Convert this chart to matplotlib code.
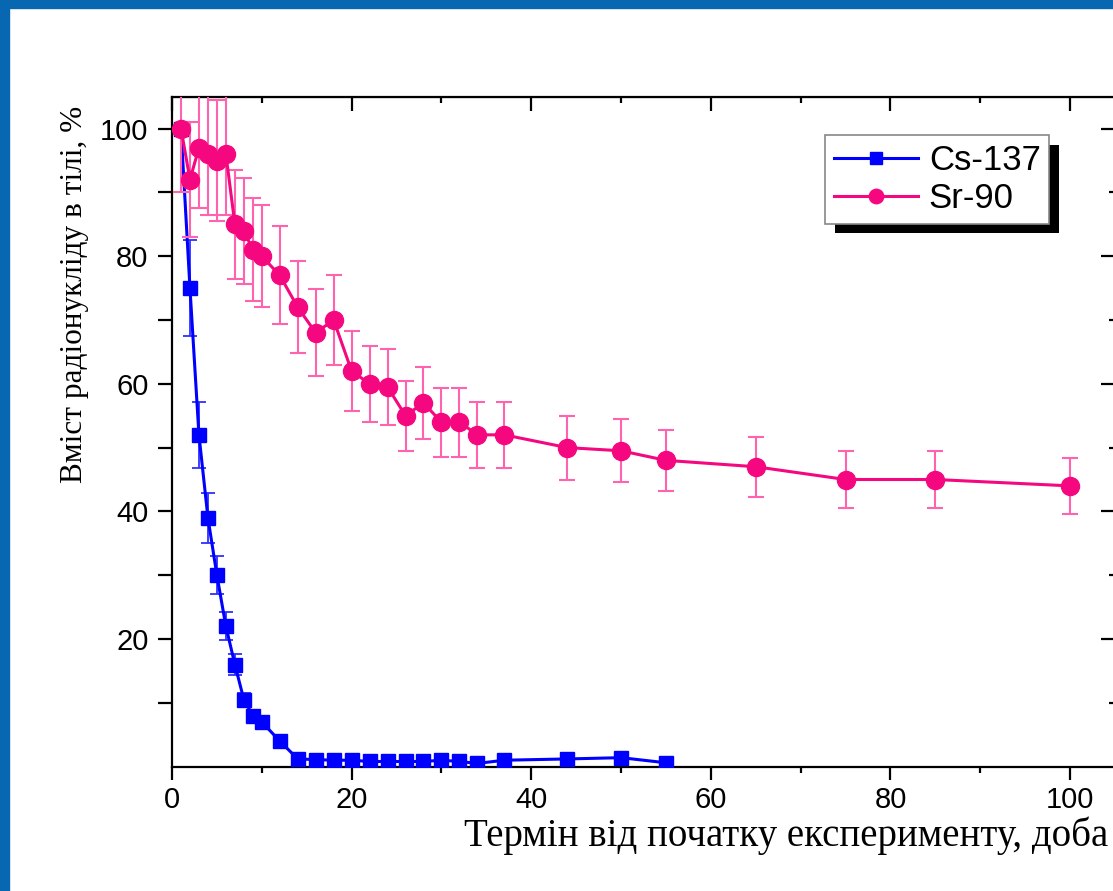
import matplotlib
matplotlib.use("Agg")
import matplotlib.pyplot as plt
import matplotlib.patheffects as pe
from matplotlib.patches import Rectangle
from matplotlib.ticker import FixedLocator

# days since start of experiment
cs_x = [1, 2, 3, 4, 5, 6, 7, 8, 9, 10, 12, 14, 16, 18, 20, 22, 24, 26, 28, 30, 32, 34, 37, 44, 50, 55]
cs_y = [100, 75, 52, 39, 30, 22, 16, 10.5, 8, 7, 4, 1.2, 1.1, 1, 1, 0.8, 0.8, 0.8, 0.8, 1, 0.8, 0.5, 1, 1.2, 1.4, 0.6]
cs_err = [10, 7.5, 5.2, 3.9, 3, 2.2, 1.6, 1.05, 0.8, 0.7, 0.4, 0.1, 0.1, 0.1, 0.1, 0.1, 0.1, 0.1, 0.1, 0.1, 0.1, 0.1, 0.1, 0.1, 0.1, 0.1]

sr_x = [1, 2, 3, 4, 5, 6, 7, 8, 9, 10, 12, 14, 16, 18, 20, 22, 24, 26, 28, 30, 32, 34, 37, 44, 50, 55, 65, 75, 85, 100]
sr_y = [100, 92, 97, 96, 95, 96, 85, 84, 81, 80, 77, 72, 68, 70, 62, 60, 59.5, 55, 57, 54, 54, 52, 52, 50, 49.5, 48, 47, 45, 45, 44]
sr_err = [10, 9, 9.5, 9.5, 9.5, 9.6, 8.5, 8.3, 8.1, 8, 7.7, 7.2, 6.8, 7, 6.2, 6, 5.9, 5.5, 5.6, 5.4, 5.4, 5.2, 5.2, 5, 4.95, 4.8, 4.7, 4.5, 4.5, 4.4]

x_ticks = [0, 20, 40, 60, 80, 100]
x_minor = [10, 30, 50, 70, 90]
y_ticks = [20, 40, 60, 80, 100]
y_minor = [10, 30, 50, 70, 90]

CS_COLOR = "#0000ff"
SR_COLOR = "#f5077f"
FRAME_BLUE = "#0768b1"

W, H = 1113, 891
fig = plt.figure(figsize=(W / 100, H / 100), dpi=100)

# blue slide frame on left and top
fig.patches.append(Rectangle((0, 0), 9 / W, 1, transform=fig.transFigure, color=FRAME_BLUE, zorder=-1))
fig.patches.append(Rectangle((0, 1 - 8 / H), 1, 8 / H, transform=fig.transFigure, color=FRAME_BLUE, zorder=-1))

ax = fig.add_axes([172 / W, (H - 766.6) / H, 943 / W, 669.9 / H])

ax.errorbar(cs_x, cs_y, yerr=cs_err, fmt="none", ecolor="#3030ff", elinewidth=1.3,
            capsize=5, capthick=1.3, zorder=2)
ax.plot(cs_x, cs_y, color=CS_COLOR, marker="s", ms=10.5, lw=2.2, label="Cs-137", zorder=3)

ax.errorbar(sr_x, sr_y, yerr=sr_err, fmt="none", ecolor="#ff62ae", elinewidth=1.5,
            capsize=5.5, capthick=1.5, zorder=4)
ax.plot(sr_x, sr_y, color=SR_COLOR, marker="o", ms=13, lw=2.2, label="Sr-90", zorder=5)

ax.set_xlim(0, 105)
ax.set_ylim(0, 105)

tick_font = {"family": "Liberation Sans", "size": 21}
ax.set_xticks(x_ticks, labels=[str(v) for v in x_ticks], fontdict=tick_font)
ax.set_xticks(x_minor, minor=True)
ax.set_yticks(y_ticks, labels=[str(v) for v in y_ticks], fontdict=tick_font)
ax.set_yticks(y_minor, minor=True)

for s in ax.spines.values():
    s.set_linewidth(1.6)

ax.tick_params(axis="x", which="major", direction="out", length=9, width=1.6, pad=5)
ax.tick_params(axis="x", which="minor", direction="out", length=4.5, width=1.6)
ax.tick_params(axis="y", which="both", direction="out", length=10, width=1.6, pad=7)

# inward ticks on top and right
top = ax.secondary_xaxis("top")
top.xaxis.set_major_locator(FixedLocator(x_ticks))
top.xaxis.set_minor_locator(FixedLocator(x_minor))
top.tick_params(which="major", direction="in", length=10, width=1.6, labeltop=False)
top.tick_params(which="minor", direction="in", length=4.5, width=1.6)
right = ax.secondary_yaxis("right")
right.yaxis.set_major_locator(FixedLocator(y_ticks))
right.yaxis.set_minor_locator(FixedLocator(y_minor))
right.tick_params(which="major", direction="in", length=10, width=1.6, labelright=False)
right.tick_params(which="minor", direction="in", length=4.5, width=1.6)

ax.set_xlabel("Термін від початку експерименту, доба", fontfamily="Liberation Serif",
              fontsize=28, loc="right")
ax.xaxis.set_label_coords(0.9926, -0.074)
ax.set_ylabel("Вміст радіонукліду в тілі, %", fontfamily="Liberation Serif", fontsize=22.5)
ax.yaxis.set_label_coords(-0.088, 0.7047)

leg = ax.legend(loc="upper left", bbox_to_anchor=(0.6925, 0.9428), borderaxespad=0,
                prop={"family": "Liberation Sans", "size": 25}, handlelength=2.42,
                handletextpad=0.32, labelspacing=0.15, borderpad=0.25, markerscale=0.8,
                fancybox=False, framealpha=1)
frame = leg.get_frame()
frame.set_edgecolor("#888888")
frame.set_linewidth(1.2)
frame.set_path_effects([pe.SimplePatchShadow(offset=(7, -7), shadow_rgbFace="k", alpha=1),
                        pe.Normal()])

fig.savefig("out.png", dpi=100)
